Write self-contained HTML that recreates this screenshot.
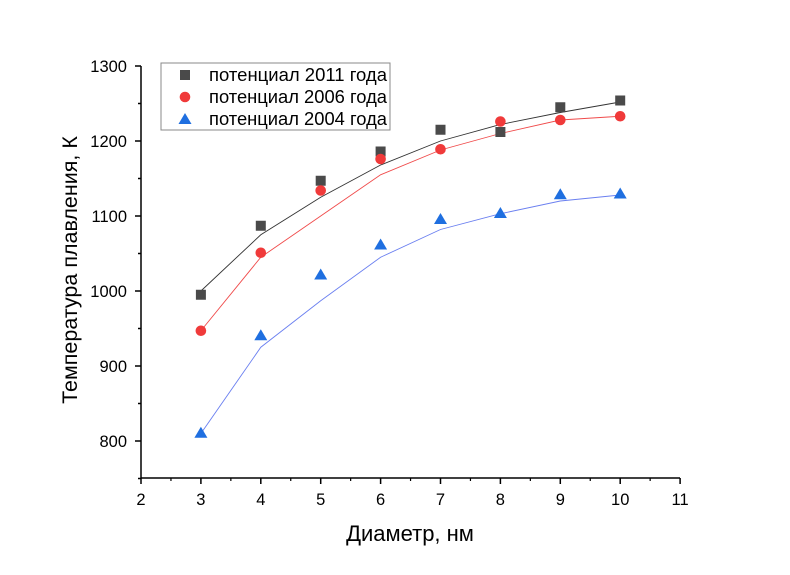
<!DOCTYPE html>
<html><head><meta charset="utf-8"><style>
body{margin:0;background:#fff;}
svg{display:block;font-family:"Liberation Sans",Arial,sans-serif;}
</style></head><body>
<svg id="chart" width="790" height="575" viewBox="0 0 790 575"></svg>
<script>
const xs=[3,4,5,6,7,8,9,10];
const s2011=[995,1087,1147,1186,1215,1212,1245,1254];
const s2006=[947,1051,1134,1176,1189,1226,1228,1233];
const s2004=[811,941,1022,1062,1096,1104,1129,1130];
const f2011=[1000,1075,1125,1168,1200,1222,1238,1252];
const f2006=[947,1045,1100,1155,1188,1210,1228,1233];
const f2004=[810,925,987,1045,1082,1103,1120,1128];
const xTicks=[2,3,4,5,6,7,8,9,10,11];
const yTicks=[800,900,1000,1100,1200,1300];
const legendLabels=["потенциал 2011 года","потенциал 2006 года","потенциал 2004 года"];

const NS="http://www.w3.org/2000/svg";
const svg=document.getElementById('chart');
const X=v=>141+(v-2)*59.9;
const Y=v=>66+(1300-v)*0.75;
function el(t,a,p){const e=document.createElementNS(NS,t);for(const k in a)e.setAttribute(k,a[k]);(p||svg).appendChild(e);return e;}

let ax=el('line',{x1:141,y1:66,x2:141,y2:478,stroke:'#000','stroke-width':1.5});

ax=el('line',{x1:141,y1:478,x2:680,y2:478,stroke:'#000','stroke-width':1.5});


xTicks.forEach((v,i)=>{
  el('line',{x1:X(v),y1:478,x2:X(v),y2:484,stroke:'#000','stroke-width':1.5});
  if(i<xTicks.length-1) el('line',{x1:X(v+0.5),y1:478,x2:X(v+0.5),y2:481,stroke:'#000','stroke-width':1.2});
  const t=el('text',{x:X(v),y:505,'text-anchor':'middle','font-size':16.5});
  t.textContent=v;
  
  
});
for(let v=750;v<=1300;v+=50){
  const major=v%100===0;
  el('line',{x1:141,y1:Y(v),x2:major?135:138,y2:Y(v),stroke:'#000','stroke-width':1.5});
}
yTicks.forEach(v=>{
  const t=el('text',{x:127,y:Y(v)+6,'text-anchor':'end','font-size':16.5});
  t.textContent=v;
  
  
});
let t=el('text',{x:410,y:541,'text-anchor':'middle','font-size':22});
t.textContent='Диаметр, нм';

t=el('text',{x:0,y:0,'text-anchor':'middle','font-size':21.5,transform:'translate(77,270) rotate(-90)'});
t.textContent='Температура плавления, К';


function line(arr,color,name){
  const p=el('polyline',{points:xs.map((x,i)=>X(x)+','+Y(arr[i])).join(' '),fill:'none',stroke:color,'stroke-width':0.9});
  
}
line(f2011,'#333','fit-line-2011');
line(f2006,'#f04a4a','fit-line-2006');
line(f2004,'#6a7ff0','fit-line-2004');

function marker(type,cx,cy,g){
  if(type==='sq') return el('rect',{x:cx-5,y:cy-5,width:10,height:10,fill:'#4a4a4a'},g);
  if(type==='ci') return el('circle',{cx:cx,cy:cy,r:5.3,fill:'#f03a3a'},g);
  return el('polygon',{points:`${cx},${cy-6} ${cx-6.5},${cy+5} ${cx+6.5},${cy+5}`,fill:'#1f6fe0'},g);
}
[[s2011,'sq','point-2011'],[s2006,'ci','point-2006'],[s2004,'tr','point-2004']].forEach(([arr,type,name])=>{
  xs.forEach((x,i)=>{
    const m=marker(type,X(x),Y(arr[i]));
    
    
  });
});

const lg=el('g',{});

el('rect',{x:161,y:63,width:229,height:67,fill:'#fff',stroke:'#888','stroke-width':1},lg);
['sq','ci','tr'].forEach((type,i)=>{
  const cy=75+i*22;
  marker(type,185,cy,lg);
  const tx=el('text',{x:209,y:cy+6,'font-size':18,textLength:178,lengthAdjust:'spacingAndGlyphs'},lg);
  tx.textContent=legendLabels[i];
  
  
});
</script>
</body></html>
